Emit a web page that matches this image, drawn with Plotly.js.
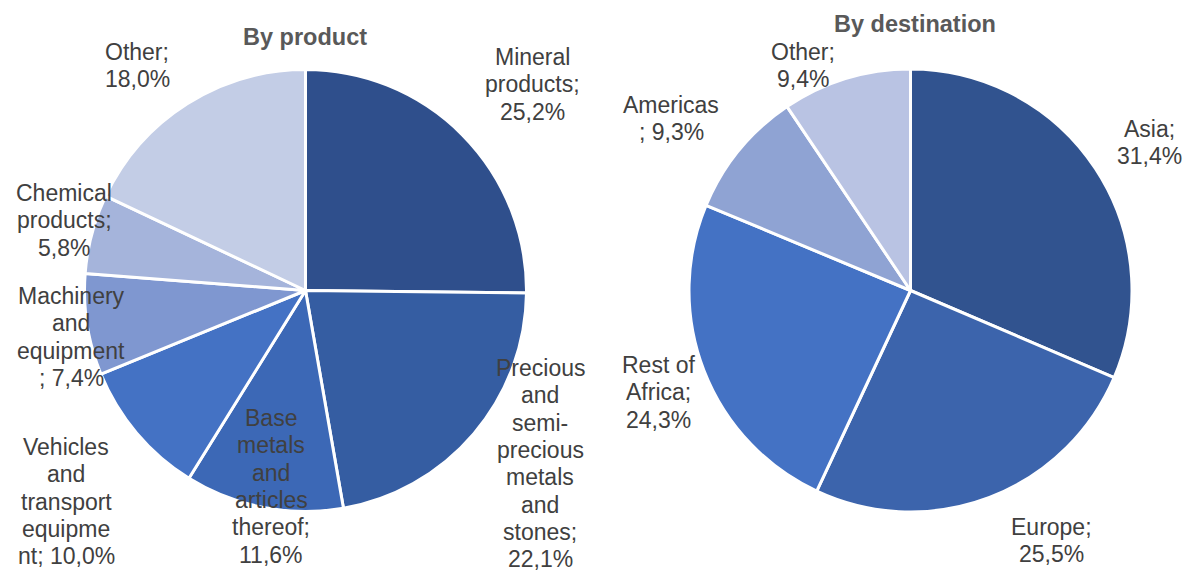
<!DOCTYPE html>
<html>
<head>
<meta charset="utf-8">
<script src="https://cdn.plot.ly/plotly-3.0.1.min.js"></script>
<style>html,body{margin:0;padding:0;background:#fff;}#chart{width:1184px;height:570px;}</style>
</head>
<body>
<div id="chart"></div>
<script>
// ---- Data ----
var productNames = ["Mineral products", "Precious and semi-precious metals and stones", "Base metals and articles thereof", "Vehicles and transport equipment", "Machinery and equipment", "Chemical products", "Other"];
var productValues = [25.2, 22.1, 11.6, 10.0, 7.4, 5.8, 18.0];
var productLabelLines = [
  ["Mineral", "products;", "25,2%"],
  ["Precious", "and", "semi-", "precious", "metals", "and", "stones;", "22,1%"],
  ["Base", "metals", "and", "articles", "thereof;", "11,6%"],
  ["Vehicles", "and", "transport", "equipme", "nt; 10,0%"],
  ["Machinery", "and", "equipment", "; 7,4%"],
  ["Chemical", "products;", "5,8%"],
  ["Other;", "18,0%"]
];
var destNames = ["Asia", "Europe", "Rest of Africa", "Americas", "Other"];
var destValues = [31.4, 25.5, 24.3, 9.3, 9.4];
var destLabelLines = [
  ["Asia;", "31,4%"],
  ["Europe;", "25,5%"],
  ["Rest of", "Africa;", "24,3%"],
  ["Americas", "; 9,3%"],
  ["Other;", "9,4%"]
];
var titles = ["By product", "By destination"];

// ---- Styles / placement ----
var W = 1184, H = 570;
var productColors = ["#2F4F8C", "#355DA2", "#3C68B6", "#4472C4", "#7F97D0", "#A5B4DB", "#C3CDE6"];
var destColors = ["#31538F", "#3C64AC", "#4472C4", "#8FA3D3", "#B9C3E3"];
// label anchor: [center x px, first line center y px]
var productLabelPos = [[532, 57], [540, 368], [271, 418], [66, 447], [71, 296], [64, 193], [137, 52]];
var destLabelPos = [[1149, 129], [1051, 527], [658, 365], [671, 105], [803, 52]];
var titlePos = [[305, 37], [915, 24]];
var lineH = 27.3;

function pieTrace(names, values, colors, cx, cy, r) {
  return {
    type: "pie", labels: names, values: values, sort: false, direction: "clockwise", rotation: 0,
    textinfo: "none", hoverinfo: "none", showlegend: false,
    marker: {colors: colors, line: {color: "#ffffff", width: 3}},
    domain: {x: [(cx - r) / W, (cx + r) / W], y: [(H - cy - r) / H, (H - cy + r) / H]}
  };
}

var annotations = [];
function addLabels(lines, pos) {
  lines.forEach(function (ls, i) {
    ls.forEach(function (t, j) {
      annotations.push({
        text: t, xref: "paper", yref: "paper", showarrow: false,
        x: pos[i][0] / W, y: 1 - (pos[i][1] + j * lineH) / H,
        xanchor: "center", yanchor: "middle",
        font: {family: "Liberation Sans, Arial, sans-serif", size: 23, color: "#404040"}
      });
    });
  });
}
addLabels(productLabelLines, productLabelPos);
addLabels(destLabelLines, destLabelPos);
titles.forEach(function (t, i) {
  annotations.push({
    text: "<b>" + t + "</b>", xref: "paper", yref: "paper", showarrow: false,
    x: titlePos[i][0] / W, y: 1 - titlePos[i][1] / H, xanchor: "center", yanchor: "middle",
    font: {family: "Liberation Sans, Arial, sans-serif", size: 23.5, color: "#595959"}
  });
});

var data = [
  pieTrace(productNames, productValues, productColors, 305.5, 290.5, 221),
  pieTrace(destNames, destValues, destColors, 910.5, 290.5, 221.5)
];
var layout = {
  width: W, height: H, margin: {l: 0, r: 0, t: 0, b: 0},
  paper_bgcolor: "#ffffff", plot_bgcolor: "#ffffff",
  annotations: annotations
};
Plotly.newPlot("chart", data, layout, {displayModeBar: false, staticPlot: true});
</script>
</body>
</html>
